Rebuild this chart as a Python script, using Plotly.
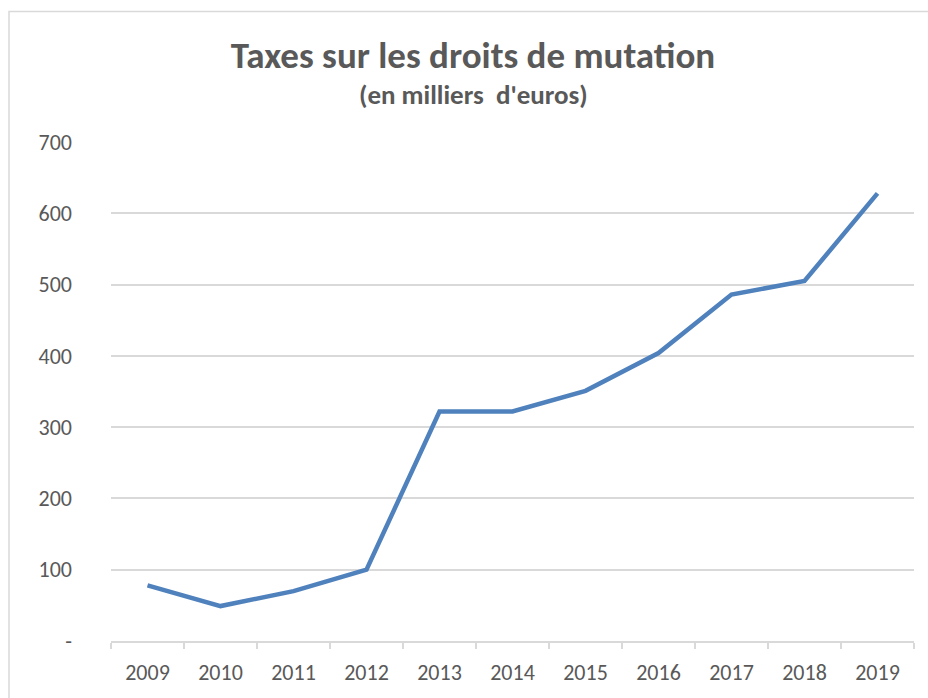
import plotly.graph_objects as go

annees = ['2009', '2010', '2011', '2012', '2013', '2014', '2015', '2016', '2017', '2018', '2019']
montants = [78, 49, 70, 100, 322, 322, 351, 404, 486, 505, 628]  # en milliers d'euros

y_ticks = [0, 100, 200, 300, 400, 500, 600, 700]
y_labels = ['-', '100', '200', '300', '400', '500', '600', '700']

font_family = 'Carlito, Lato, sans-serif'
gris = '#595959'

W, H = 928, 698

fig = go.Figure()
fig.add_trace(go.Scatter(x=annees, y=montants, mode='lines',
                         line=dict(color='#4F81BD', width=4.5),
                         hoverinfo='x+y'))

fig.update_layout(
    width=W, height=H,
    margin=dict(l=111, r=W - 914, t=142, b=H - 643, pad=0),
    paper_bgcolor='white', plot_bgcolor='white',
    showlegend=False,
    font=dict(family=font_family, color=gris, size=22),
    title=dict(text='<b>Taxes sur les droits de mutation</b>',
               font=dict(size=37, color=gris, family=font_family),
               xref='container', yref='container',
               x=473/W, y=1 - 55/H, xanchor='center', yanchor='middle'),
)

# sous-titre
fig.add_annotation(text="<b>(en milliers  d'euros)</b>", xref='paper', yref='paper',
                   x=(473 - 111) / 803, y=(643 - 94) / 501,
                   xanchor='center', yanchor='middle', showarrow=False,
                   font=dict(size=27, color=gris, family=font_family))

# cadre du graphique
fig.add_shape(type='rect', xref='paper', yref='paper',
              x0=(9 - 111) / 803, x1=1.5, y0=-0.3, y1=1 + (142 - 11) / 501,
              line=dict(color='#D9D9D9', width=1.5), layer='below')

fig.update_xaxes(type='category', range=[-0.5, 10.5], showgrid=False,
                 showline=True, linecolor='#D9D9D9', linewidth=1.5,
                 ticks='outside', tickson='boundaries', ticklen=6,
                 tickcolor='#D9D9D9', tickwidth=1.5,
                 ticklabelstandoff=11,
                 tickfont=dict(size=22, color=gris))
fig.update_yaxes(range=[0, 700], tickvals=y_ticks, ticktext=y_labels,
                 showgrid=True, gridcolor='#D9D9D9', gridwidth=1.5,
                 zeroline=False, showline=False, ticks='',
                 ticklabelstandoff=38,
                 tickfont=dict(size=22, color=gris))

# pas de marge autour du graphique dans la page, pas de barre d'outils
fig.write_html("out.html",
               config={'displayModeBar': False},
               post_script="document.body.style.margin='0';document.body.style.overflow='hidden';")
